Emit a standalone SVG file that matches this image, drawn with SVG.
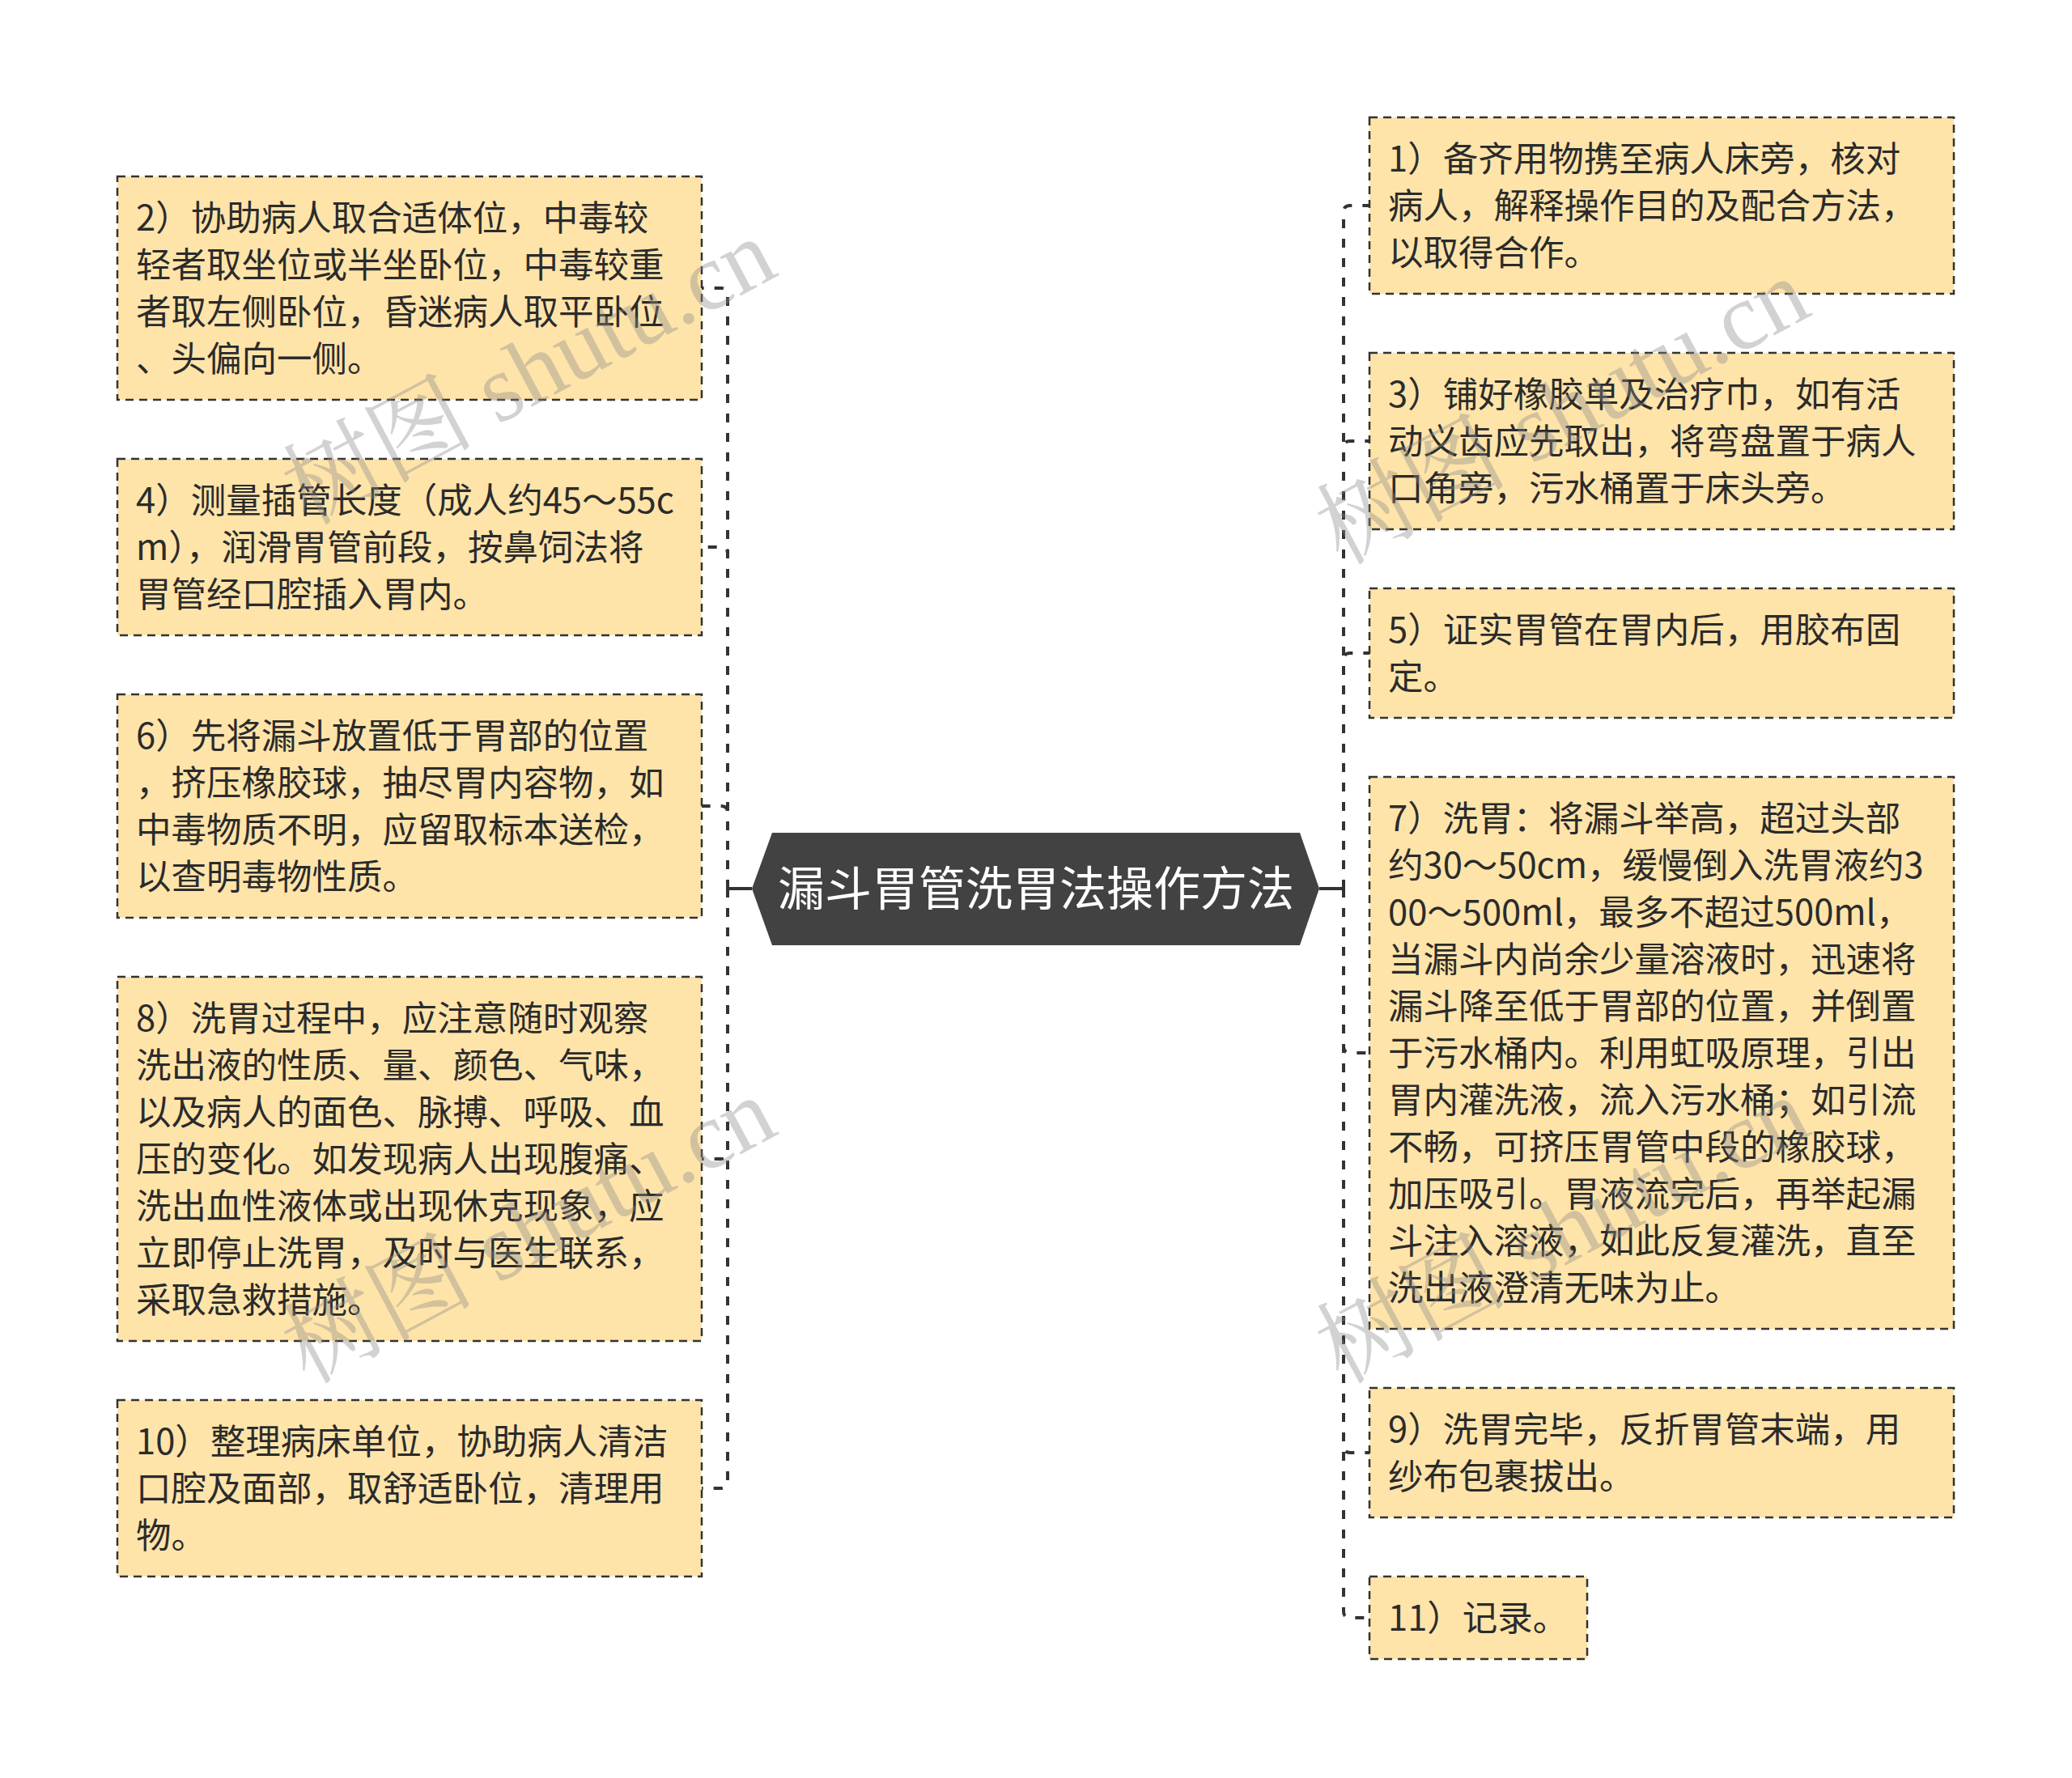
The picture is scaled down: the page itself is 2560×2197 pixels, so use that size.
<svg xmlns="http://www.w3.org/2000/svg" width="2560" height="2197" viewBox="0 0 2560 2197">
<style>
.box{fill:#FFE4AA;stroke:#333333;stroke-width:2.5;stroke-dasharray:10 7}
.t{font-family:"Noto Sans CJK SC","Noto Sans",sans-serif;font-size:43.5px;fill:#2b2b2b}
.root-t{font-family:"Noto Sans CJK SC","Noto Sans",sans-serif;font-size:58px;fill:#ffffff}
.c{fill:none;stroke:#333333;stroke-width:4;stroke-dasharray:11 13}
.wm{font-family:"Liberation Serif","Noto Serif CJK SC","Noto Sans CJK SC",serif;font-size:118px;fill:#8a8a8a;opacity:0.38}
</style>
<rect width="2560" height="2197" fill="#ffffff"/>
<g id="connectors">
<line x1="899" y1="1098" x2="929" y2="1098" stroke="#333333" stroke-width="4"/>
<line x1="1630" y1="1098" x2="1660" y2="1098" stroke="#333333" stroke-width="4"/>
<path class="c" d="M899,1098 V364 Q899,356 891,356 H867"/>
<path class="c" d="M899,1098 V684 Q899,676 891,676 H867"/>
<path class="c" d="M899,1098 V1004 Q899,996 891,996 H867"/>
<path class="c" d="M899,1098 V1424 Q899,1432 891,1432 H867"/>
<path class="c" d="M899,1098 V1831 Q899,1839 891,1839 H867"/>
<path class="c" d="M1660,1098 V262 Q1660,254 1668,254 H1692"/>
<path class="c" d="M1660,1098 V553 Q1660,545 1668,545 H1692"/>
<path class="c" d="M1660,1098 V815 Q1660,807 1668,807 H1692"/>
<path class="c" d="M1660,1098 V1293 Q1660,1301 1668,1301 H1692"/>
<path class="c" d="M1660,1098 V1787 Q1660,1795 1668,1795 H1692"/>
<path class="c" d="M1660,1098 V1991 Q1660,1999 1668,1999 H1692"/>
</g>
<g id="root">
<polygon points="929,1098 954,1029 1606,1029 1630,1098 1606,1168 954,1168" fill="#424242"/>
<text class="root-t" x="1280" y="1119" text-anchor="middle">漏斗胃管洗胃法操作方法</text>
</g>
<g id="n2">
<rect class="box" x="145" y="218" width="722" height="276"/>
<text class="t" x="168" y="285">2）协助病人取合适体位，中毒较</text>
<text class="t" x="168" y="343">轻者取坐位或半坐卧位，中毒较重</text>
<text class="t" x="168" y="401">者取左侧卧位，昏迷病人取平卧位</text>
<text class="t" x="168" y="459">、头偏向一侧。</text>
</g>
<g id="n4">
<rect class="box" x="145" y="567" width="722" height="218"/>
<text class="t" x="168" y="634">4）测量插管长度（成人约45～55c</text>
<text class="t" x="168" y="692">m），润滑胃管前段，按鼻饲法将</text>
<text class="t" x="168" y="750">胃管经口腔插入胃内。</text>
</g>
<g id="n6">
<rect class="box" x="145" y="858" width="722" height="276"/>
<text class="t" x="168" y="925">6）先将漏斗放置低于胃部的位置</text>
<text class="t" x="168" y="983">，挤压橡胶球，抽尽胃内容物，如</text>
<text class="t" x="168" y="1041">中毒物质不明，应留取标本送检，</text>
<text class="t" x="168" y="1099">以查明毒物性质。</text>
</g>
<g id="n8">
<rect class="box" x="145" y="1207" width="722" height="450"/>
<text class="t" x="168" y="1274">8）洗胃过程中，应注意随时观察</text>
<text class="t" x="168" y="1332">洗出液的性质、量、颜色、气味，</text>
<text class="t" x="168" y="1390">以及病人的面色、脉搏、呼吸、血</text>
<text class="t" x="168" y="1448">压的变化。如发现病人出现腹痛、</text>
<text class="t" x="168" y="1506">洗出血性液体或出现休克现象，应</text>
<text class="t" x="168" y="1564">立即停止洗胃，及时与医生联系，</text>
<text class="t" x="168" y="1622">采取急救措施。</text>
</g>
<g id="n10">
<rect class="box" x="145" y="1730" width="722" height="218"/>
<text class="t" x="168" y="1797">10）整理病床单位，协助病人清洁</text>
<text class="t" x="168" y="1855">口腔及面部，取舒适卧位，清理用</text>
<text class="t" x="168" y="1913">物。</text>
</g>
<g id="n1">
<rect class="box" x="1692" y="145" width="722" height="218"/>
<text class="t" x="1715" y="212">1）备齐用物携至病人床旁，核对</text>
<text class="t" x="1715" y="270">病人，解释操作目的及配合方法，</text>
<text class="t" x="1715" y="328">以取得合作。</text>
</g>
<g id="n3">
<rect class="box" x="1692" y="436" width="722" height="218"/>
<text class="t" x="1715" y="503">3）铺好橡胶单及治疗巾，如有活</text>
<text class="t" x="1715" y="561">动义齿应先取出，将弯盘置于病人</text>
<text class="t" x="1715" y="619">口角旁，污水桶置于床头旁。</text>
</g>
<g id="n5">
<rect class="box" x="1692" y="727" width="722" height="160"/>
<text class="t" x="1715" y="794">5）证实胃管在胃内后，用胶布固</text>
<text class="t" x="1715" y="852">定。</text>
</g>
<g id="n7">
<rect class="box" x="1692" y="960" width="722" height="682"/>
<text class="t" x="1715" y="1027">7）洗胃：将漏斗举高，超过头部</text>
<text class="t" x="1715" y="1085">约30～50cm，缓慢倒入洗胃液约3</text>
<text class="t" x="1715" y="1143">00～500ml，最多不超过500ml，</text>
<text class="t" x="1715" y="1201">当漏斗内尚余少量溶液时，迅速将</text>
<text class="t" x="1715" y="1259">漏斗降至低于胃部的位置，并倒置</text>
<text class="t" x="1715" y="1317">于污水桶内。利用虹吸原理，引出</text>
<text class="t" x="1715" y="1375">胃内灌洗液，流入污水桶；如引流</text>
<text class="t" x="1715" y="1433">不畅，可挤压胃管中段的橡胶球，</text>
<text class="t" x="1715" y="1491">加压吸引。胃液流完后，再举起漏</text>
<text class="t" x="1715" y="1549">斗注入溶液，如此反复灌洗，直至</text>
<text class="t" x="1715" y="1607">洗出液澄清无味为止。</text>
</g>
<g id="n9">
<rect class="box" x="1692" y="1715" width="722" height="160"/>
<text class="t" x="1715" y="1782">9）洗胃完毕，反折胃管末端，用</text>
<text class="t" x="1715" y="1840">纱布包裹拔出。</text>
</g>
<g id="n11">
<rect class="box" x="1692" y="1948" width="269" height="102"/>
<text class="t" x="1715" y="2015">11）记录。</text>
</g>
<g id="watermark">
<text class="wm" transform="translate(380,650) rotate(-28)">树图 shutu.cn</text>
<text class="wm" transform="translate(1657,699) rotate(-28)">树图 shutu.cn</text>
<text class="wm" transform="translate(380,1711) rotate(-28)">树图 shutu.cn</text>
<text class="wm" transform="translate(1657,1711) rotate(-28)">树图 shutu.cn</text>
</g>
</svg>
